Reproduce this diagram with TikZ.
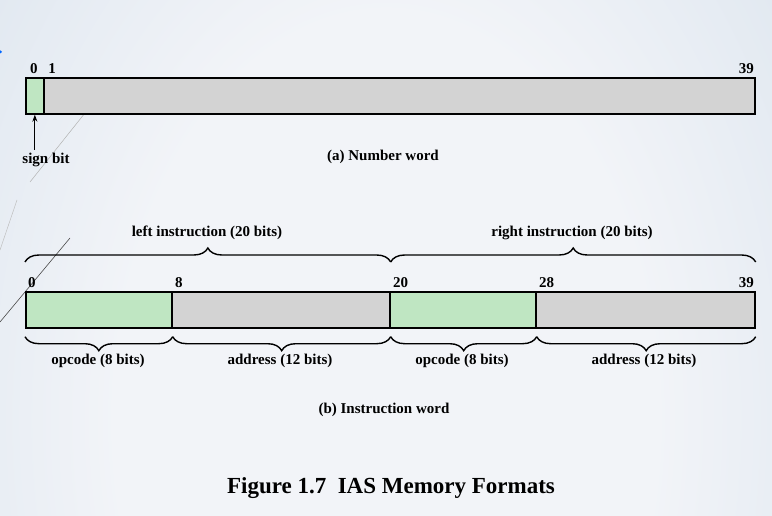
\documentclass[tikz,border=0pt]{standalone}
\usepackage{fontspec}
\setmainfont{Liberation Serif}
\usetikzlibrary{decorations.pathreplacing,arrows.meta}
\definecolor{fieldgreen}{HTML}{BFE6C2}
\definecolor{fieldgray}{HTML}{D3D3D3}
\definecolor{bgedge}{HTML}{C9D8E6}
\definecolor{bgmid}{HTML}{F2F4F8}
\pgfdeclareradialshading{bgshade}{\pgfpoint{0bp}{0bp}}{color(0bp)=(bgmid); color(14bp)=(bgmid); color(42bp)=(bgedge); color(50bp)=(bgedge)}
\tikzset{
  field/.style={draw=black, line width=1.7pt},
  lbl/.style={font=\bfseries\fontsize{15}{17}\selectfont, inner sep=0pt},
  brc/.style={decorate, decoration={brace, amplitude=14pt}, line width=1.4pt},
}
\begin{document}
\begin{tikzpicture}[x=1pt,y=-1pt]
\useasboundingbox (0,0) rectangle (772,516);
\begin{scope}
\clip (0,0) rectangle (772,516);
\fill[bgedge] (0,0) rectangle (772,516);
\shade[shading=bgshade] (386,420) ellipse [x radius=480, y radius=720];
\end{scope}
% decorative slide lines
\draw[gray!60, line width=0.5pt] (30,182) -- (85,113);
\draw[gray!50, line width=0.5pt] (0,250) -- (17,200);
\draw[black!70, line width=0.6pt] (0,322) -- (70,238);
\fill[blue!60!cyan] (0.5,52) circle (1.5);
% (a) number word
\node[field, fill=fieldgreen, minimum width=18pt, minimum height=36pt, inner sep=0pt, anchor=north west] (sb) at (25,77) {};
\node[field, fill=fieldgray, minimum width=711pt, minimum height=36pt, inner sep=0pt, anchor=north west] (num) at (43,77) {};
\node[lbl, anchor=south] (n0) at (34,74) {0};
\node[lbl, anchor=south] (n1) at (52,74) {1};
\node[lbl, anchor=south east] (n39) at (754,74) {39};
\node[lbl] (signbit) at (46,160) {sign bit};
\draw[-{Stealth[length=7pt,width=5pt]}, line width=0.9pt] (signbit.north -| sb.south) ++(0,-3) coordinate (sbtail) -- (sb.south);
\node[lbl] (capa) at (383,157) {(a) Number word};
% (b) instruction word
\node[field, fill=fieldgreen, minimum width=146pt, minimum height=36pt, inner sep=0pt, anchor=north west] (op1) at (25,291) {};
\node[field, fill=fieldgray, minimum width=218pt, minimum height=36pt, inner sep=0pt, anchor=north west] (ad1) at (171,291) {};
\node[field, fill=fieldgreen, minimum width=146pt, minimum height=36pt, inner sep=0pt, anchor=north west] (op2) at (389,291) {};
\node[field, fill=fieldgray, minimum width=219pt, minimum height=36pt, inner sep=0pt, anchor=north west] (ad2) at (535,291) {};
\node[lbl, anchor=south west] (b0) at (28,288) {0};
\node[lbl, anchor=south west] (b8) at (175,288) {8};
\node[lbl, anchor=south west] (b20) at (393,288) {20};
\node[lbl, anchor=south west] (b28) at (539,288) {28};
\node[lbl, anchor=south east] (b39) at (754,288) {39};
% top braces
\draw[brc] (op1.north west) ++(0,-29) coordinate (lt1) -- (ad1.north east |- lt1) coordinate (lt2);
\draw[brc] (lt2) -- (ad2.north east |- lt2) coordinate (rt2);
\node[lbl] (lefti) at (207,233) {left instruction (20 bits)};
\node[lbl] (righti) at (572,233) {right instruction (20 bits)};
% bottom braces
\draw[brc] (op1.south east) ++(0,8) coordinate (bb2) -- (op1.south west |- bb2) coordinate (bb1);
\draw[brc] (ad1.south east |- bb2) coordinate (bb3) -- (bb2);
\draw[brc] (op2.south east |- bb2) coordinate (bb4) -- (bb3);
\draw[brc] (ad2.south east |- bb2) coordinate (bb5) -- (bb4);
\node[lbl] (opc1) at (98,361) {opcode (8 bits)};
\node[lbl] (adr1) at (280,361) {address (12 bits)};
\node[lbl] (opc2) at (462,361) {opcode (8 bits)};
\node[lbl] (adr2) at (644,361) {address (12 bits)};
\node[lbl] (capb) at (384,410) {(b) Instruction word};
\node[font=\bfseries\fontsize{23}{27}\selectfont, inner sep=0pt] (title) at (391,488) {Figure 1.7\ \ IAS Memory Formats};
\end{tikzpicture}
\end{document}
